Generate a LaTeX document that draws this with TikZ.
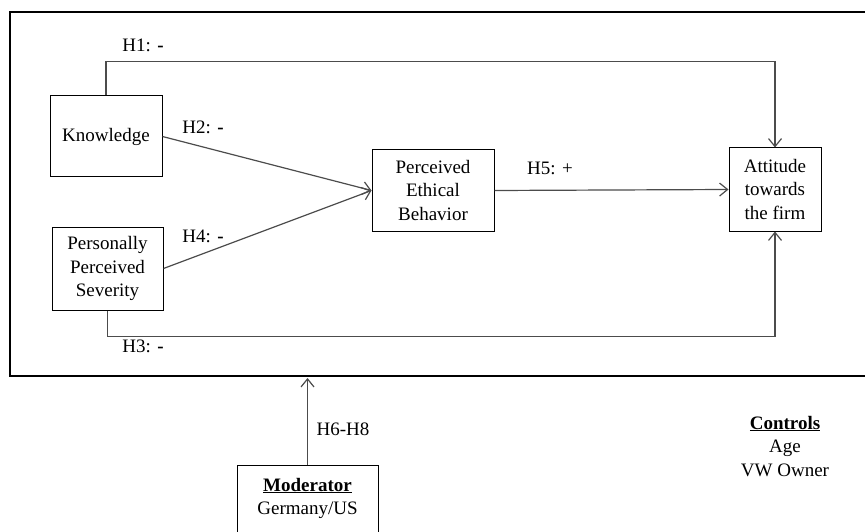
\documentclass[tikz,border=0pt]{standalone}
\usepackage{fontspec}
\setmainfont{Liberation Serif}
\usetikzlibrary{arrows.meta}
\begin{document}
\begin{tikzpicture}[x=1pt,y=-1pt,
  every node/.style={font=\fontsize{19}{23.5}\selectfont, inner sep=0pt},
  box/.style={draw=black, line width=1pt, align=center},
  conn/.style={draw=black!70, line width=1.2pt},
  tip/.style={-{Straight Barb[length=8pt,width=13pt,line width=1.2pt]}},
  lab/.style={}]
\useasboundingbox (0,0) rectangle (865,532);
\clip (0,0) rectangle (865,532);
% frame
\draw[line width=2pt] (870,12) -- (10,12) -- (10,376) -- (870,376);
% boxes
\node[box, minimum width=112pt, minimum height=81pt] (kn) at (106,136.5) {Knowledge};
\node[box, minimum width=111pt, minimum height=83pt] (pps) at (107.5,268.5) {Personally\\Perceived\\Severity};
\node[box, minimum width=122pt, minimum height=81pt] (peb) at (433,190.5) {Perceived\\Ethical\\Behavior};
\node[box, minimum width=92pt, minimum height=83pt] (att) at (775,189.5) {Attitude\\towards\\the firm};
\node[box, minimum width=141pt, minimum height=100pt, anchor=north] (mod) at (307.5,465) {};
\node[anchor=base] (modt) at (307.5,491) {\underline{\textbf{Moderator}}};
\node[anchor=base] (modc) at (307.5,514) {Germany/US};
\coordinate (modtip) at (307.5,378);
% controls
\node[anchor=base] (ctl) at (785,429) {\underline{\textbf{Controls}}};
\node[anchor=base] (age) at (785,452) {Age};
\node[anchor=base] (vw) at (785,476) {VW Owner};
% connectors
\draw[conn, tip] (kn.north) -- ++(0,-34) -| (att.north);
\draw[conn, tip] (pps.south) -- ++(0,26) -| (att.south);
\draw[conn, tip] (kn.east) -- (peb.west);
\draw[conn, tip] (pps.east) -- (peb.west);
\draw[conn, tip] (peb.east) -- (att.west);
\draw[conn, tip] (mod.north) -- (modtip);
% labels
\node (h1) at (143,45) {H1: \textbf{-}};
\node (h2) at (203,127) {H2: \textbf{-}};
\node (h4) at (203,236) {H4: \textbf{-}};
\node (h3) at (143,346) {H3: \textbf{-}};
\node (h5) at (550,168) {H5: +};
\node (h68) at (343,429) {H6-H8};
\end{tikzpicture}
\end{document}
